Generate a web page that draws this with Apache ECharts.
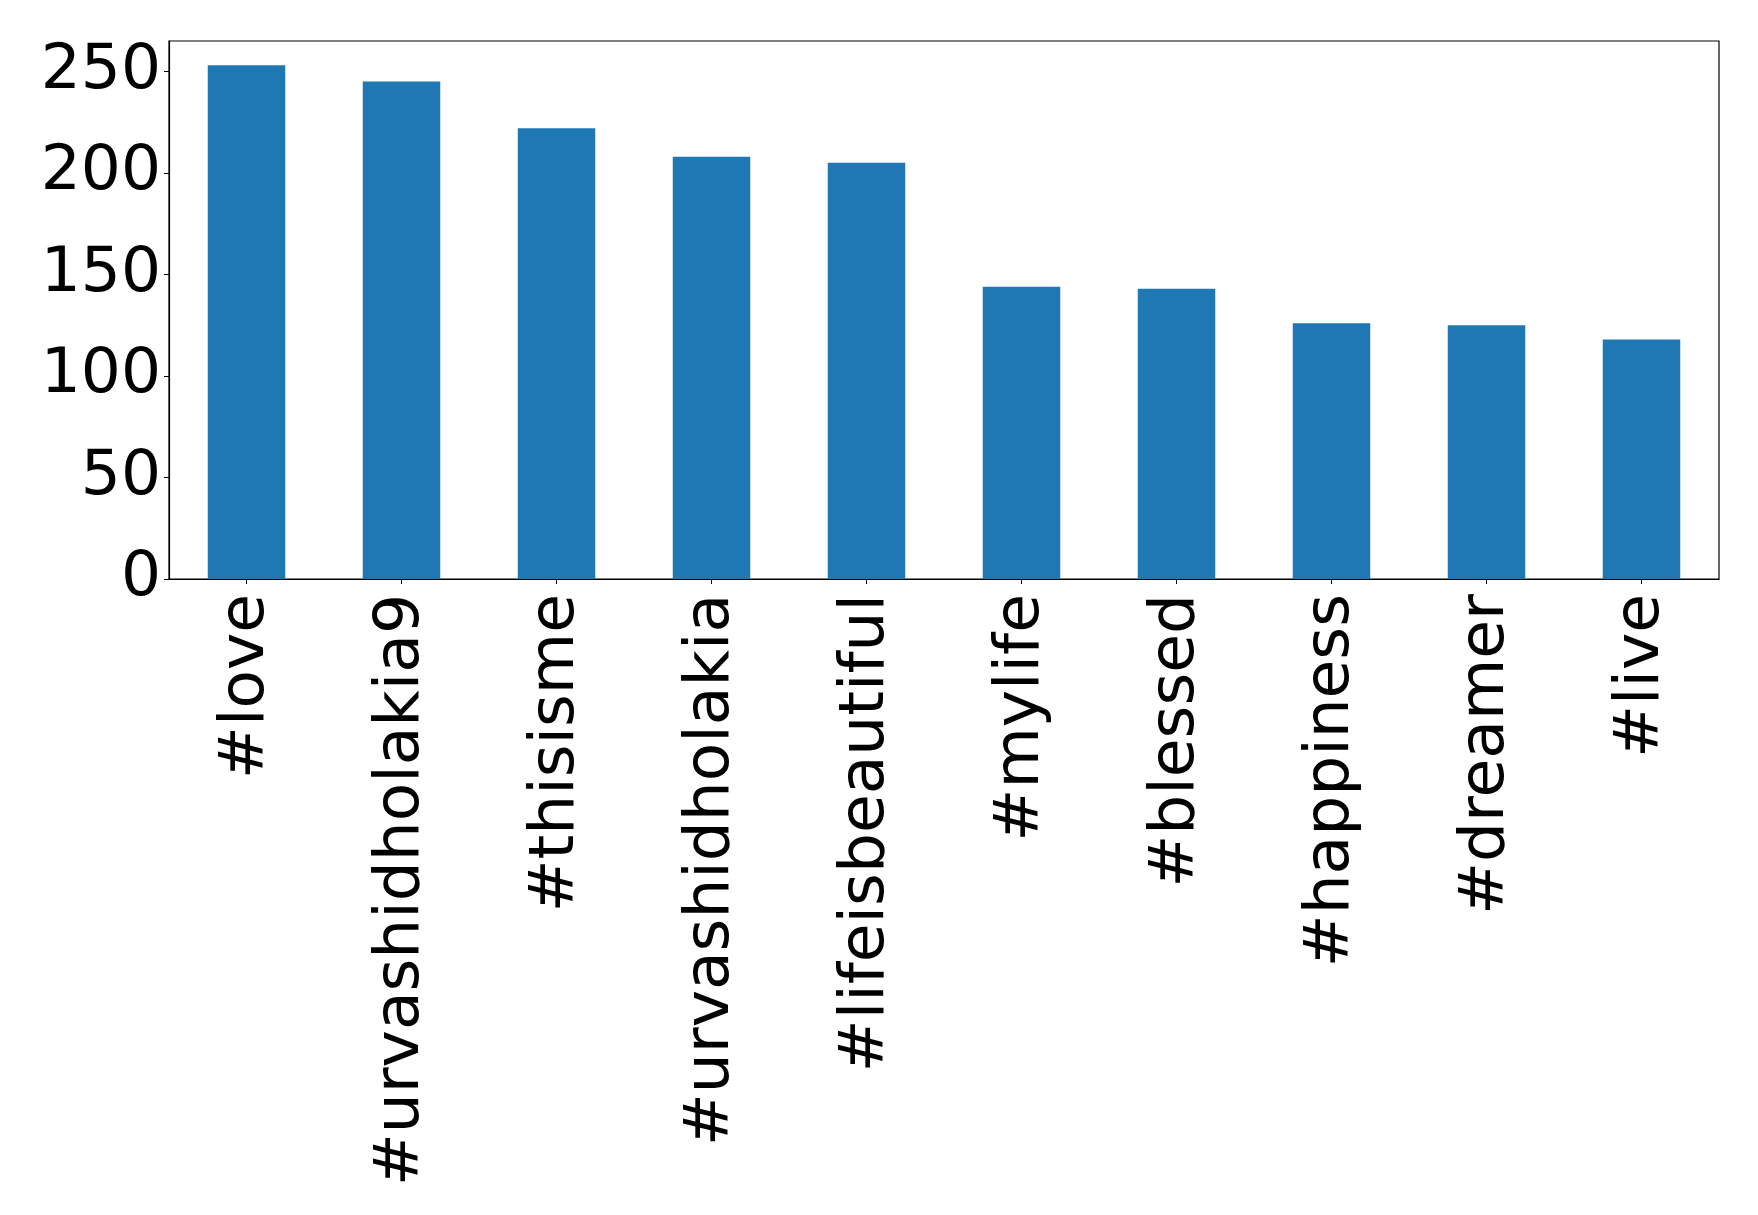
<!DOCTYPE html>
<html>
<head>
<meta charset="utf-8">
<script src="https://cdn.jsdelivr.net/npm/echarts@6/dist/echarts.min.js"></script>
<style>
html,body{margin:0;padding:0;background:#fff;}
#chart{width:1758px;height:1215px;}
</style>
</head>
<body>
<div id="chart"></div>
<script>
const categories = ['#love','#urvashidholakia9','#thisisme','#urvashidholakia','#lifeisbeautiful','#mylife','#blessed','#happiness','#dreamer','#live'];
const counts = [253, 245, 222, 208, 205, 144, 143, 126, 125, 118];
const yTicks = [0, 50, 100, 150, 200, 250];

const chart = echarts.init(document.getElementById('chart'), null, {renderer:'canvas'});
const font = 'DejaVu Sans';
chart.setOption({
  animation: false,
  backgroundColor: '#ffffff',
  grid: {
    left: 169, right: 39, top: 41, bottom: 636,
    show: true, borderColor: '#000', borderWidth: 1.2, backgroundColor: 'transparent'
  },
  xAxis: {
    type: 'category',
    data: categories,
    axisLine: {show: true, lineStyle: {color: '#000', width: 1.2}},
    axisTick: {show: true, alignWithLabel: true, length: 5, lineStyle: {color: '#000', width: 1}},
    axisLabel: {rotate: 90, margin: 15, color: '#000', fontSize: 63, fontFamily: font, interval: 0}
  },
  yAxis: {
    type: 'value',
    min: 0, max: 265, interval: 50,
    axisLine: {show: true, lineStyle: {color: '#000', width: 1.2}},
    axisTick: {show: true, length: 5, lineStyle: {color: '#000', width: 1}},
    splitLine: {show: false},
    axisLabel: {
      margin: 8, color: '#000', fontSize: 63, fontFamily: font,
      showMaxLabel: false,
      formatter: function (v) { return yTicks.indexOf(v) >= 0 ? String(v) : ''; }
    }
  },
  series: [{
    type: 'bar',
    data: counts,
    barWidth: '50%',
    itemStyle: {color: '#1f77b4'}
  }]
});
</script>
</body>
</html>
